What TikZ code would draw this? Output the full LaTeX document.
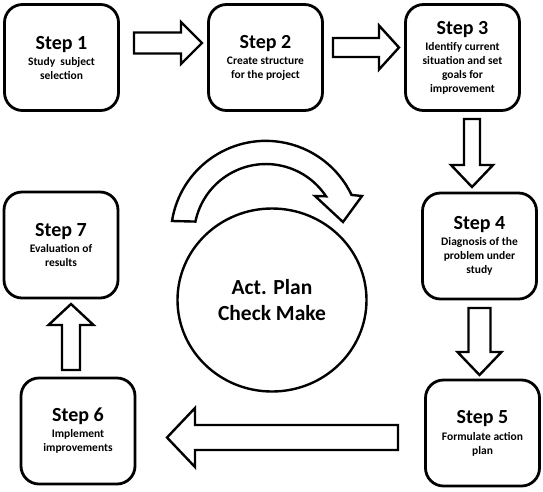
\documentclass[tikz,border=0pt]{standalone}
\usepackage{fontspec}
\setmainfont{Carlito}
\usepackage{tikz}
\usetikzlibrary{calc, shapes.geometric}

\tikzset{
  stepbox/.style={draw, line width=2.8pt, rounded corners=18pt,
    minimum width=114pt, minimum height=106pt, inner sep=0pt,
    align=center, font=\fontsize{11.5}{14}\selectfont\bfseries},
  arrowline/.style={draw, line width=2.4pt, line join=miter, fill=white},
}
\newcommand{\steptitle}[1]{{\fontsize{20}{20}\selectfont #1}}
% fat outlined arrow: tail, tip, half shaft, half head, head length
\newcommand{\fatarrow}[5]{%
  \draw[arrowline] let \p1=(#1), \p2=(#2),
    \n1={atan2(\y2-\y1,\x2-\x1)}, \n2={veclen(\x2-\x1,\y2-\y1)} in
    [shift={(\p1)}, rotate=\n1]
    (0,-#3) -- (\n2-#5,-#3) -- (\n2-#5,-#4) -- (\n2,0) -- (\n2-#5,#4)
    -- (\n2-#5,#3) -- (0,#3) -- cycle;}

\begin{document}
\begin{tikzpicture}[x=1pt, y=-1pt]
    \useasboundingbox (0,0) rectangle (543,491);

    % 1. Cac buoc
    \node[stepbox] (s1) at (61.5,57.5) {\steptitle{Step 1}\\[2pt] Study~ subject\\ selection};
    \node[stepbox] (s2) at (265.5,57.5) {\steptitle{Step 2}\\[2pt] Create structure\\ for the project};
    \node[stepbox] (s3) at (462.5,57.5) {\steptitle{Step 3}\\[2pt] Identify current\\ situation and set\\ goals for\\ improvement};
    \node[stepbox] (s4) at (479.5,246) {\steptitle{Step 4}\\[2pt] Diagnosis of the\\ problem under\\ study};
    \node[stepbox] (s5) at (482.5,433) {\steptitle{Step 5}\\[3pt] Formulate action\\ plan};
    \node[stepbox] (s6) at (78,431) {\steptitle{Step 6}\\[2pt] Implement\\ improvements};
    \node[stepbox] (s7) at (61,245) {\steptitle{Step 7}\\[2pt] Evaluation of\\ results};

    % 2. Vong tron o giua
    \node[ellipse, draw, line width=2.4pt, minimum width=189pt, minimum height=183pt,
        inner sep=0pt, align=center, font=\fontsize{21.5}{26}\selectfont\bfseries]
        (pdca) at (272,300) {Act. Plan\\Check Make};

    % 3. Mui ten
    \coordinate (a12s) at (134,43);    \coordinate (a12e) at (202,43);
    \coordinate (a23s) at (333,47.5);  \coordinate (a23e) at (399,47.5);
    \coordinate (a34s) at (472,119);   \coordinate (a34e) at (472,187);
    \coordinate (a45s) at (479.5,308); \coordinate (a45e) at (479.5,375);
    \coordinate (a56s) at (398,437.5); \coordinate (a56e) at (167,437.5);
    \coordinate (a67s) at (71,370);    \coordinate (a67e) at (71,304);
    \fatarrow{a12s}{a12e}{10.5}{21}{21}
    \fatarrow{a23s}{a23e}{9.5}{22}{20}
    \fatarrow{a34s}{a34e}{8}{21}{22}
    \fatarrow{a45s}{a45e}{11}{22}{23}
    \fatarrow{a56s}{a56e}{12.5}{29.5}{28}
    \fatarrow{a67s}{a67e}{9}{22.5}{21}

    % 4. Mui ten cong
    \draw[arrowline] (172,221) arc[start angle=171, end angle=25.5, radius=95pt]
        -- (362,196) -- (343,222) -- (315,196) -- (326,196.3)
        arc[start angle=33.5, end angle=168.4, radius=72pt] -- cycle;
\end{tikzpicture}
\end{document}
